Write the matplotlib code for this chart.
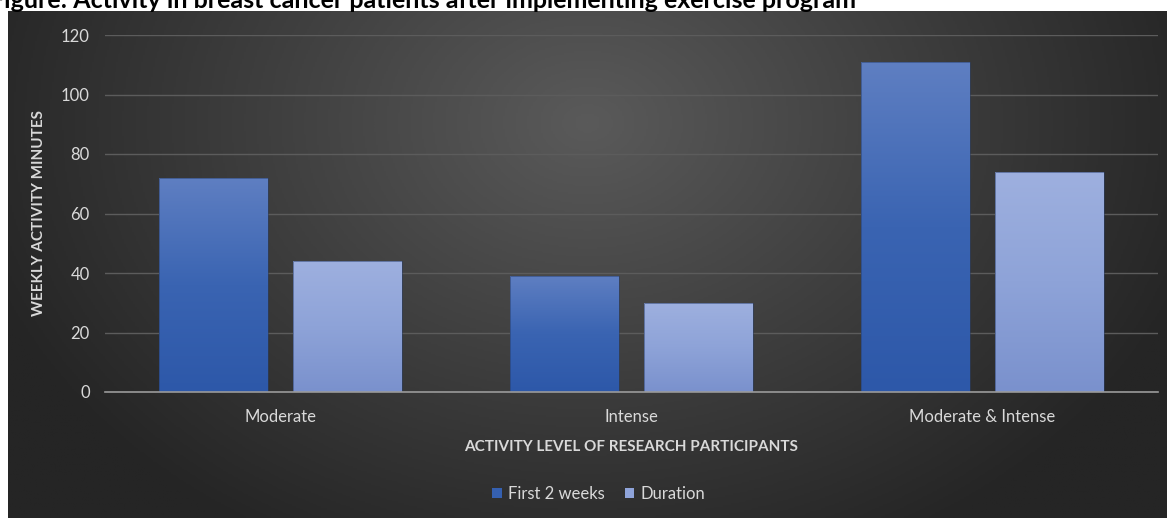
import numpy as np
import matplotlib
matplotlib.use("Agg")
import matplotlib.pyplot as plt
from matplotlib.patches import Patch
from matplotlib.colors import LinearSegmentedColormap

plt.rcParams['font.family'] = ['Lato', 'DejaVu Sans']

# Data
categories = ["Moderate", "Intense", "Moderate & Intense"]
first_2_weeks = [72, 39, 111]
duration = [44, 30, 74]
series_names = ["First 2 weeks", "Duration"]
y_ticks = [0, 20, 40, 60, 80, 100, 120]

W, H = 1167, 518
fig = plt.figure(figsize=(W / 100, H / 100), dpi=100)
fig.patch.set_facecolor("white")

# Dark panel with a soft radial highlight
bg = fig.add_axes([8 / W, 0, 1 - 8 / W, 1 - 11 / H])
bg.set_axis_off()
gx, gy = np.meshgrid(np.linspace(0, 1, 600), np.linspace(0, 1, 300))
r = np.sqrt(((gx - 0.5) / 0.55) ** 2 + ((gy - 0.78) / 0.95) ** 2)
r = np.clip(r, 0, 1)
bg_cmap = LinearSegmentedColormap.from_list("bg", ["#5a5a5a", "#3f3f3f", "#252525"])
bg.imshow(r, cmap=bg_cmap, extent=[0, 1, 0, 1], origin="lower", aspect="auto", vmin=0, vmax=1)
bg.set_xlim(0, 1)
bg.set_ylim(0, 1)

# Chart axes
ax = fig.add_axes([105 / W, 1 - 392 / H, 1053 / W, 357 / H])
ax.set_facecolor("none")
x = np.arange(len(categories))
bw = 0.31
off = 0.19
b1 = ax.bar(x - off, first_2_weeks, bw, color="none", edgecolor="none", zorder=3)
b2 = ax.bar(x + off, duration, bw, color="none", edgecolor="none", zorder=3)

ax.set_xlim(-0.5, 2.5)
ax.set_ylim(0, 120)

grad1 = LinearSegmentedColormap.from_list("s1", ["#2d58a9", "#3a64b2", "#5f7fc2"])
grad2 = LinearSegmentedColormap.from_list("s2", ["#7a91cd", "#8ea3d8", "#9eb0df"])
legend_cols = ["#3560b0", "#8fa4da"]

vert = np.linspace(0, 1, 256).reshape(-1, 1)
for bars, cmap in ((b1, grad1), (b2, grad2)):
    for p in bars:
        x0, y0 = p.get_x(), p.get_y()
        w, h = p.get_width(), p.get_height()
        im = ax.imshow(vert, cmap=cmap, extent=[x0, x0 + w, y0, y0 + h], origin="lower",
                       aspect="auto", zorder=3)
        im.set_clip_path(p)
        ax.add_patch(plt.Rectangle((x0, y0), w, h, fill=False, edgecolor="#2a3f6a",
                                   linewidth=0.6, alpha=0.6, zorder=4))

ax.set_xlim(-0.5, 2.5)
ax.set_ylim(0, 120)

ax.set_yticks(y_ticks)
ax.set_yticklabels([str(v) for v in y_ticks])
ax.set_xticks(x)
ax.set_xticklabels(categories)
ax.yaxis.grid(True, color="#5c5c5c", linewidth=1.0, zorder=0)
ax.set_axisbelow(True)
for s in ("top", "right", "left"):
    ax.spines[s].set_visible(False)
ax.spines["bottom"].set_color("#9a9a9a")
ax.spines["bottom"].set_linewidth(1.2)
ax.spines["bottom"].set_zorder(5)
ax.tick_params(axis="both", length=0, colors="#d9d9d9", labelsize=12)
ax.tick_params(axis="y", pad=11)
ax.tick_params(axis="x", pad=12)

ax.set_ylabel("WEEKLY ACTIVITY MINUTES", color="#d9d9d9", fontsize=11,
              fontweight="bold", labelpad=11)
ax.set_xlabel("ACTIVITY LEVEL OF RESEARCH PARTICIPANTS", color="#d9d9d9",
              fontsize=11, fontweight="bold", labelpad=11)

handles = [Patch(facecolor=c, edgecolor="none") for c in legend_cols]
fig.legend(handles, series_names, loc="center", bbox_to_anchor=(599 / W, 1 - 494 / H),
           ncol=2, frameon=False, handlelength=0.55, handleheight=0.55,
           handletextpad=0.4, columnspacing=1.2, labelcolor="#d9d9d9", fontsize=12)

fig.text(-10 / W, 1 - 8 / H,
         "Figure: Activity in breast cancer patients after implementing exercise program",
         fontsize=18, fontweight="bold", color="black", ha="left", va="baseline")

fig.savefig("out.png", dpi=100)
